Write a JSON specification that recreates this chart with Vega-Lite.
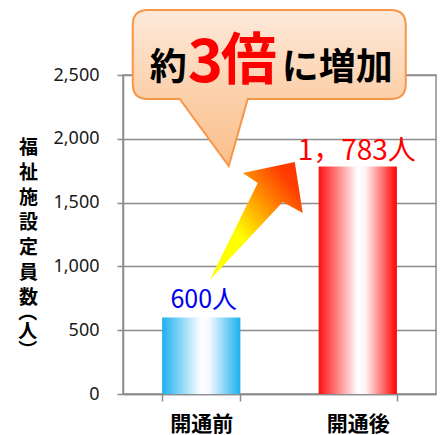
{
  "$schema": "https://vega.github.io/schema/vega-lite/v6.json",
  "width": 313,
  "height": 319,
  "autosize": {"type": "none"},
  "padding": {"left": 123, "top": 75, "right": 10, "bottom": 41},
  "background": "white",
  "config": {
    "view": {"stroke": "#8c8c8c", "strokeWidth": 1.5},
    "text": {"font": "Noto Sans CJK JP"}
  },
  "datasets": {
    "main": [
      {"period": "開通前", "value": 600, "label": "600人"},
      {"period": "開通後", "value": 1783, "label": "1，783人"}
    ],
    "anchor": [
      {"period": "開通前", "value": 2500}
    ]
  },
  "encoding": {
    "x": {
      "field": "period",
      "type": "nominal",
      "sort": ["開通前", "開通後"],
      "scale": {"domain": ["開通前", "開通後"], "paddingInner": 0.5, "paddingOuter": 0.25},
      "axis": {
        "title": null,
        "labelAngle": 0,
        "labelFont": "Noto Sans CJK JP",
        "labelFontSize": 21,
        "labelFontWeight": "bold",
        "labelColor": "#000000",
        "labelPadding": 12,
        "tickBand": "extent",
        "tickSize": 7,
        "tickColor": "#8c8c8c",
        "tickWidth": 1.5,
        "domainColor": "#8c8c8c",
        "domainWidth": 1.5
      }
    },
    "y": {
      "field": "value",
      "type": "quantitative",
      "scale": {"domain": [0, 2500], "nice": false},
      "axis": {
        "values": [0, 500, 1000, 1500, 2000, 2500],
        "format": ",d",
        "labelFont": "Noto Sans",
        "labelFontSize": 18,
        "labelColor": "#1a1a1a",
        "labelPadding": 18,
        "tickSize": 6,
        "tickColor": "#8c8c8c",
        "tickWidth": 1.5,
        "domainColor": "#8c8c8c",
        "domainWidth": 1.5,
        "grid": true,
        "gridColor": "#8c8c8c",
        "gridWidth": 1.5,
        "title": ["福", "祉", "施", "設", "定", "員", "数"],
        "titleAngle": 0,
        "titleX": -95,
        "titleY": 63,
        "titleAlign": "center",
        "titleBaseline": "top",
        "titleFont": "Noto Sans CJK JP",
        "titleFontSize": 19,
        "titleFontWeight": "bold",
        "titleColor": "#000000",
        "titleLineHeight": 25
      }
    }
  },
  "layer": [
    {
      "data": {"name": "main"},
      "transform": [{"filter": "datum.period === '開通前'"}],
      "mark": {
        "type": "bar",
        "fill": {
          "gradient": "linear", "x1": 0, "y1": 0, "x2": 1, "y2": 0,
          "stops": [
            {"offset": 0, "color": "#1cb0f0"},
            {"offset": 0.5, "color": "#ffffff"},
            {"offset": 0.6, "color": "#f4f9fe"},
            {"offset": 1, "color": "#1cb0f0"}
          ]
        }
      }
    },
    {
      "data": {"name": "main"},
      "transform": [{"filter": "datum.period === '開通後'"}],
      "mark": {
        "type": "bar",
        "fill": {
          "gradient": "linear", "x1": 0, "y1": 0, "x2": 1, "y2": 0,
          "stops": [
            {"offset": 0, "color": "#ff1010"},
            {"offset": 0.5, "color": "#ffffff"},
            {"offset": 0.6, "color": "#fff4f4"},
            {"offset": 1, "color": "#ff0000"}
          ]
        }
      }
    },
    {
      "data": {"name": "main"},
      "transform": [{"filter": "datum.period === '開通前'"}],
      "mark": {"type": "text", "baseline": "alphabetic", "align": "center", "fontSize": 25, "dy": -9, "dx": 2.5, "color": "#0000f0"},
      "encoding": {"text": {"field": "label"}}
    },
    {
      "data": {"name": "main"},
      "transform": [{"filter": "datum.period === '開通後'"}],
      "mark": {"type": "text", "baseline": "alphabetic", "align": "center", "fontSize": 28, "dy": -6.5, "dx": -1, "color": "#ff0000"},
      "encoding": {"text": {"field": "label"}}
    },
    {
      "data": {"name": "anchor"},
      "mark": {"type": "text", "text": ["︵", "人", "︶"], "align": "center", "baseline": "top", "fontSize": 19, "fontWeight": "bold", "lineHeight": 19, "color": "#000000", "dx": -173.5, "dy": 229}
    },
    {
      "data": {"name": "anchor"},
      "mark": {
        "type": "point",
        "shape": "M 0.085,2.05 L 0.565,1.08 L 0.415,0.98 L 0.935,0.87 L 1.015,1.38 L 0.815,1.27 Z",
        "size": 40000,
        "filled": true,
        "opacity": 1,
        "strokeWidth": 0,
        "fill": {
          "gradient": "linear", "x1": 0, "y1": 1, "x2": 1, "y2": 0,
          "stops": [
            {"offset": 0, "color": "#ffff00"},
            {"offset": 0.35, "color": "#ffff00"},
            {"offset": 0.6, "color": "#ff9900"},
            {"offset": 0.85, "color": "#ff3c00"},
            {"offset": 1, "color": "#ff3300"}
          ]
        }
      }
    },
    {
      "data": {"name": "anchor"},
      "mark": {
        "type": "point",
        "shape": "M -0.535,-0.65 L 1.895,-0.65 Q 2.045,-0.65 2.045,-0.5 L 2.045,0.09 Q 2.045,0.24 1.895,0.24 L 0.465,0.24 L 0.275,0.91 L -0.215,0.24 L -0.535,0.24 Q -0.685,0.24 -0.685,0.09 L -0.685,-0.5 Q -0.685,-0.65 -0.535,-0.65 Z",
        "size": 40000,
        "filled": true,
        "opacity": 1,
        "stroke": "#f79646",
        "strokeWidth": 2,
        "fill": {
          "gradient": "linear", "x1": 0, "y1": 0, "x2": 0, "y2": 1,
          "stops": [
            {"offset": 0, "color": "#feeadb"},
            {"offset": 0.55, "color": "#fcd0aa"},
            {"offset": 1, "color": "#fbbf8b"}
          ]
        }
      }
    },
    {
      "data": {"name": "anchor"},
      "mark": {"type": "text", "text": "約", "align": "left", "baseline": "alphabetic", "fontSize": 37, "fontWeight": "bold", "color": "#000000", "dx": -51.5, "dy": 4.5}
    },
    {
      "data": {"name": "anchor"},
      "mark": {"type": "text", "text": "3", "align": "left", "baseline": "alphabetic", "fontSize": 60, "fontWeight": "bold", "color": "#ff0000", "dx": -13.5, "dy": 7}
    },
    {
      "data": {"name": "anchor"},
      "mark": {"type": "text", "text": "倍", "align": "left", "baseline": "alphabetic", "fontSize": 56, "fontWeight": "bold", "color": "#ff0000", "dx": 19.5, "dy": 4}
    },
    {
      "data": {"name": "anchor"},
      "mark": {"type": "text", "text": "に増加", "align": "left", "baseline": "alphabetic", "fontSize": 37, "fontWeight": "bold", "color": "#000000", "dx": 80.5, "dy": 4.5}
    }
  ]
}
